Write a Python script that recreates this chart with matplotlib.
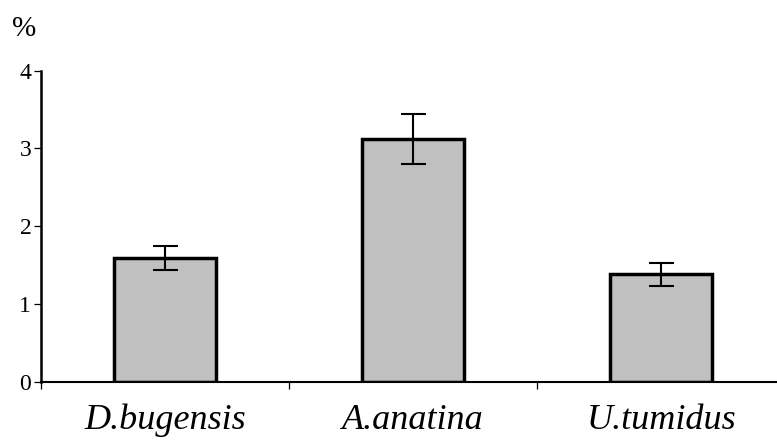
import numpy as np
import matplotlib
matplotlib.use('Agg')
import matplotlib.pyplot as plt

# data
species = ['D.bugensis', 'A.anatina', 'U.tumidus']
values = [1.59, 3.12, 1.38]
errors = [0.15, 0.32, 0.145]
yticks = [0, 1, 2, 3, 4]

plt.rcParams['font.family'] = ['Liberation Serif', 'DejaVu Serif']

fig = plt.figure(figsize=(7.77, 4.41), dpi=100)
# axes runs slightly past the right edge, as in the reference
ax = fig.add_axes([41/777, (441-381.7)/441, 744/777, 311/441])

x = np.arange(len(species))
ax.bar(x, values, width=0.41, color='#c0c0c0', edgecolor='black', linewidth=2.5, zorder=2)
ax.errorbar(x, values, yerr=errors, fmt='none', ecolor='black', elinewidth=1.5,
            capsize=9, capthick=1.5, zorder=3)

ax.set_xlim(-0.5, 2.5)
ax.set_ylim(0, 4)
ax.set_yticks(yticks)
ax.set_yticklabels([str(t) for t in yticks], fontsize=17)
ax.tick_params(axis='y', length=5, width=0.9, pad=2)

ax.set_xticks(x)
ax.set_xticklabels(species, fontsize=26, style='italic')
ax.tick_params(axis='x', which='major', length=0, pad=16)
ax.set_xticks([-0.5, 0.5, 1.5, 2.5], minor=True)
ax.tick_params(axis='x', which='minor', length=5, width=0.9, direction='out')

for s in ['top', 'right']:
    ax.spines[s].set_visible(False)
ax.spines['left'].set_linewidth(1.8)
ax.spines['bottom'].set_linewidth(1.5)

fig.text(12/777, 1 - 29/441, '%', fontsize=21, va='center', ha='left')

fig.savefig('out.png', dpi=100)
